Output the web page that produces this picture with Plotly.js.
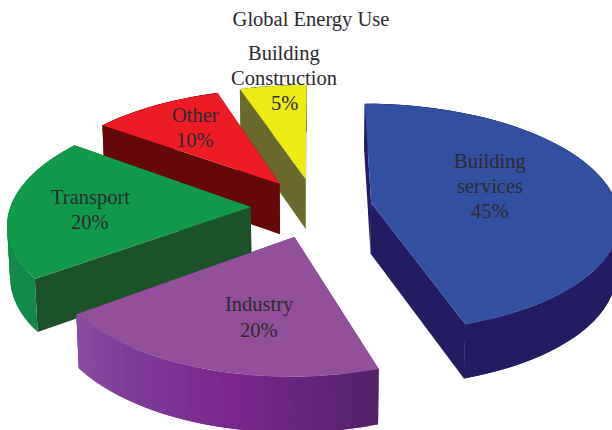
<!DOCTYPE html>
<html>
<head>
<meta charset="utf-8">
<script src="https://cdn.plot.ly/plotly-3.0.1.min.js"></script>
<style>html,body{margin:0;padding:0;background:#fff}</style>
</head>
<body>
<div id="chart" style="width:612px;height:430px"></div>
<script>
// Shares of global energy use, clockwise from twelve o'clock
var categories = ['Building<br>services', 'Industry', 'Transport', 'Other', 'Building<br>Construction'];
var shares = [45, 20, 20, 10, 5];
// Explosion of each wedge, as a fraction of the radius
var pulls = [0.24, 0.27, 0.27, 0.26, 0.26];
// Horizontal stretch of each wedge's radius under the camera's perspective
var stretch = [1.035, 1, 1.01, 1.03, 1.05];

// Wedge colours: top face, cut faces, rim gradient (from the start of the wedge to its end)
var topColors = ['#3150a0', '#944f9c', '#129a4b', '#ed1c24', '#edeb13'];
var cutColors = ['#221c62', '#5a2472', '#1b5228', '#650808', '#6a6a2c'];
var rimStops = [
  [[0, '#221c62'], [1, '#221c62']],
  [[0, '#54216b'], [0.14, '#5e2373'], [0.42, '#7a278c'], [0.72, '#7e3a97'], [1, '#8c4d9f']],
  [[0, '#12894a'], [1, '#14914b']],
  [[0, '#650808'], [1, '#650808']],
  [[0, '#6a6a2c'], [1, '#6a6a2c']]
];
// Label centres on the plot, one per wedge
var labelX = [490, 259, 90, 195, 284];
var labelY = [186, 317, 209.5, 127, 78];
var LINE_STEP = 25;

// Projection of the tilted pie onto the page
var CX = 315, CY = 207, RX = 238, RY = 113, PERSP = 0.13, DEPTH = 51, BOTTOM_SCALE = 0.99;

function project(U, V, lower) {
  var s = 1 / (1 - PERSP * V);
  var k = lower ? BOTTOM_SCALE : 1;
  return [CX + RX * U * s * k, CY + RY * V * s + (lower ? DEPTH * Math.sqrt(s) : 0)];
}
function hex(c) { return [1, 3, 5].map(function (i) { return parseInt(c.substr(i, 2), 16); }); }
function mix(stops, t) {
  for (var i = 1; i < stops.length; i++) {
    if (t <= stops[i][0]) {
      var a = hex(stops[i - 1][1]), b = hex(stops[i][1]);
      var f = (t - stops[i - 1][0]) / (stops[i][0] - stops[i - 1][0]);
      return 'rgb(' + a.map(function (v, j) { return Math.round(v + (b[j] - v) * f); }).join(',') + ')';
    }
  }
  return stops[stops.length - 1][1];
}
function poly(points, color) {
  var closed = points.concat([points[0]]);
  return {
    type: 'scatter', mode: 'lines', fill: 'toself', fillcolor: color,
    x: closed.map(function (p) { return p[0]; }),
    y: closed.map(function (p) { return p[1]; }),
    line: { color: color, width: 0 }, hoverinfo: 'skip', showlegend: false
  };
}

var total = shares.reduce(function (a, b) { return a + b; }, 0);
var wedges = [], start = 0;
shares.forEach(function (share, i) {
  var sweep = share / total * 2 * Math.PI, mid = start + sweep / 2;
  var ox = pulls[i] * Math.sin(mid), oy = -pulls[i] * Math.cos(mid);
  var edge = function (a) { return [ox + stretch[i] * Math.sin(a), oy - Math.cos(a)]; };
  var traces = [];
  var pt = function (p, lower) { return project(p[0], p[1], lower); };
  var apex = [ox, oy];
  // Cut faces first, then the rim, then the top face over everything
  [start, start + sweep].forEach(function (a) {
    var e = edge(a);
    traces.push(poly([pt(apex), pt(e), pt(e, true), pt(apex, true)], cutColors[i]));
  });
  // Each rim band runs on under the next one so no seams open between them,
  // and short bands keep the fold at the pie's silhouette from leaving a hole
  var bands = Math.max(12, share * 2);
  for (var n = 0; n < bands; n++) {
    var a0 = start + sweep * n / bands;
    var a1 = start + sweep * Math.min(bands, n + 2) / bands;
    var upper = [], under = [];
    for (var q = 0; q <= 4; q++) {
      var a = a0 + (a1 - a0) * q / 4;
      upper.push(pt(edge(a)));
      under.unshift(pt(edge(a), true));
    }
    traces.push(poly(upper.concat(under), mix(rimStops[i], (n + 0.5) / bands)));
  }
  var face = [pt(apex)];
  for (var m = 0; m <= 80; m++) face.push(pt(edge(start + sweep * m / 80)));
  traces.push(poly(face, topColors[i]));
  wedges.push(traces);
  start += sweep;
});

// Paint back to front: the small wedges lie behind Transport, Industry and the large wedge
var paintOrder = [4, 3, 2, 1, 0];
var data = [];
paintOrder.forEach(function (i) { data = data.concat(wedges[i]); });

var textFont = { family: '"Liberation Serif", serif', size: 20.5, color: '#2a2a2e' };
var annotations = [];
categories.forEach(function (name, i) {
  var lines = name.split('<br>').concat([shares[i] + '%']);
  lines.forEach(function (line, j) {
    annotations.push({
      x: labelX[i], y: labelY[i] + (j - (lines.length - 1) / 2) * LINE_STEP,
      xref: 'x', yref: 'y', showarrow: false,
      xanchor: 'center', yanchor: 'middle', align: 'center',
      text: line, font: textFont
    });
  });
});

var layout = {
  width: 612, height: 430,
  margin: { l: 0, r: 0, t: 0, b: 0 },
  paper_bgcolor: '#ffffff', plot_bgcolor: '#ffffff',
  showlegend: false,
  title: {
    text: 'Global Energy Use', font: textFont,
    x: 311 / 612, xanchor: 'center', y: 1 - 19 / 430, yanchor: 'middle'
  },
  xaxis: { range: [0, 612], visible: false, fixedrange: true },
  yaxis: { range: [430, 0], visible: false, fixedrange: true },
  annotations: annotations
};
Plotly.newPlot('chart', data, layout, { displayModeBar: false, staticPlot: true });
</script>
</body>
</html>
